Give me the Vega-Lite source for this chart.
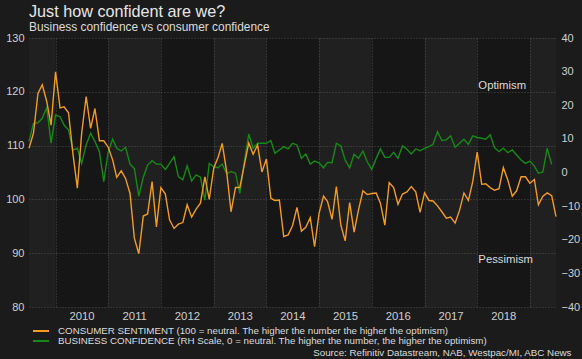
{
  "$schema": "https://vega.github.io/schema/vega-lite/v6.json",
  "width": 527,
  "height": 269,
  "autosize": {"type": "none"},
  "padding": {"left": 29, "top": 38, "right": 26, "bottom": 52},
  "config": {
    "background": "#1b1b1b",
    "view": {"fill": "#161616", "stroke": null},
    "font": "Liberation Sans"
  },
  "title": {
    "text": "Just how confident are we?",
    "subtitle": "Business confidence vs consumer confidence",
    "anchor": "start",
    "frame": "group",
    "fontSize": 16.2,
    "fontWeight": "normal",
    "color": "#e6e6e6",
    "subtitleFontSize": 11.9,
    "subtitleColor": "#dcdcdc",
    "offset": -1,
    "subtitlePadding": 2
  },
  "datasets": {
    "bands": [
      {"s": "2009/07/01", "e": "2010/01/01"},
      {"s": "2011/01/01", "e": "2012/01/01"},
      {"s": "2013/01/01", "e": "2014/01/01"},
      {"s": "2015/01/01", "e": "2016/01/01"},
      {"s": "2017/01/01", "e": "2018/01/01"},
      {"s": "2019/01/01", "e": "2019/07/01"}
    ],
    "notes": [
      {"d": "2018/01/09", "v": 121.1, "t": "Optimism"},
      {"d": "2018/01/09", "v": 88.7, "t": "Pessimism"}
    ],
    "conf": [
      {"d": "2009/07/01", "c": 109.5, "b": 9.2},
      {"d": "2009/08/01", "c": 112.3, "b": 14.6},
      {"d": "2009/09/01", "c": 119.7, "b": 14.8},
      {"d": "2009/10/01", "c": 121.3, "b": 16.1},
      {"d": "2009/11/01", "c": 118.2, "b": 19.3},
      {"d": "2009/12/01", "c": 113.8, "b": 8.7},
      {"d": "2010/01/01", "c": 123.7, "b": 17.1},
      {"d": "2010/02/01", "c": 117.0, "b": 16.6},
      {"d": "2010/03/01", "c": 117.2, "b": 14.1},
      {"d": "2010/04/01", "c": 116.1, "b": 12.6},
      {"d": "2010/05/01", "c": 108.6, "b": 6.7},
      {"d": "2010/06/01", "c": 102.1, "b": 7.2},
      {"d": "2010/07/01", "c": 112.3, "b": 2.7},
      {"d": "2010/08/01", "c": 119.1, "b": 8.2},
      {"d": "2010/09/01", "c": 113.2, "b": 11.7},
      {"d": "2010/10/01", "c": 116.9, "b": 9.2},
      {"d": "2010/11/01", "c": 110.9, "b": 6.2},
      {"d": "2010/12/01", "c": 110.9, "b": -2.7},
      {"d": "2011/01/01", "c": 109.7, "b": 6.2},
      {"d": "2011/02/01", "c": 107.3, "b": 9.9},
      {"d": "2011/03/01", "c": 104.1, "b": 7.2},
      {"d": "2011/04/01", "c": 105.3, "b": 6.4},
      {"d": "2011/05/01", "c": 103.9, "b": 7.5},
      {"d": "2011/06/01", "c": 101.1, "b": 2.5},
      {"d": "2011/07/01", "c": 92.8, "b": 1.2},
      {"d": "2011/08/01", "c": 89.9, "b": -7.0},
      {"d": "2011/09/01", "c": 96.9, "b": -1.4},
      {"d": "2011/10/01", "c": 97.3, "b": 2.2},
      {"d": "2011/11/01", "c": 103.3, "b": 3.5},
      {"d": "2011/12/01", "c": 94.9, "b": 2.5},
      {"d": "2012/01/01", "c": 102.2, "b": 2.5},
      {"d": "2012/02/01", "c": 101.0, "b": 0.9},
      {"d": "2012/03/01", "c": 96.2, "b": 2.7},
      {"d": "2012/04/01", "c": 94.6, "b": 4.7},
      {"d": "2012/05/01", "c": 95.4, "b": -1.2},
      {"d": "2012/06/01", "c": 95.7, "b": -2.2},
      {"d": "2012/07/01", "c": 99.0, "b": 2.0},
      {"d": "2012/08/01", "c": 96.7, "b": -2.5},
      {"d": "2012/09/01", "c": 98.2, "b": -0.7},
      {"d": "2012/10/01", "c": 99.3, "b": -1.4},
      {"d": "2012/11/01", "c": 104.2, "b": -8.2},
      {"d": "2012/12/01", "c": 100.0, "b": 2.7},
      {"d": "2013/01/01", "c": 105.8, "b": 1.7},
      {"d": "2013/02/01", "c": 107.9, "b": 1.4},
      {"d": "2013/03/01", "c": 110.4, "b": 2.5},
      {"d": "2013/04/01", "c": 105.1, "b": -0.4},
      {"d": "2013/05/01", "c": 97.7, "b": 0.3},
      {"d": "2013/06/01", "c": 102.2, "b": -0.2},
      {"d": "2013/07/01", "c": 102.2, "b": -6.2},
      {"d": "2013/08/01", "c": 106.4, "b": 3.2},
      {"d": "2013/09/01", "c": 110.5, "b": 11.4},
      {"d": "2013/10/01", "c": 108.4, "b": 7.2},
      {"d": "2013/11/01", "c": 110.1, "b": 8.7},
      {"d": "2013/12/01", "c": 105.1, "b": 8.7},
      {"d": "2014/01/01", "c": 107.5, "b": 8.7},
      {"d": "2014/02/01", "c": 100.2, "b": 9.5},
      {"d": "2014/03/01", "c": 99.8, "b": 5.7},
      {"d": "2014/04/01", "c": 99.9, "b": 6.7},
      {"d": "2014/05/01", "c": 93.1, "b": 7.7},
      {"d": "2014/06/01", "c": 93.4, "b": 7.0},
      {"d": "2014/07/01", "c": 95.1, "b": 8.7},
      {"d": "2014/08/01", "c": 98.5, "b": 8.2},
      {"d": "2014/09/01", "c": 94.1, "b": 4.2},
      {"d": "2014/10/01", "c": 94.8, "b": 5.5},
      {"d": "2014/11/01", "c": 96.6, "b": 2.5},
      {"d": "2014/12/01", "c": 91.2, "b": 3.4},
      {"d": "2015/01/01", "c": 97.4, "b": 2.9},
      {"d": "2015/02/01", "c": 100.6, "b": 1.4},
      {"d": "2015/03/01", "c": 99.6, "b": 3.0},
      {"d": "2015/04/01", "c": 96.3, "b": 2.9},
      {"d": "2015/05/01", "c": 102.4, "b": 8.7},
      {"d": "2015/06/01", "c": 95.2, "b": 7.9},
      {"d": "2015/07/01", "c": 92.3, "b": 3.7},
      {"d": "2015/08/01", "c": 99.4, "b": 1.4},
      {"d": "2015/09/01", "c": 93.9, "b": 5.4},
      {"d": "2015/10/01", "c": 98.0, "b": 4.2},
      {"d": "2015/11/01", "c": 101.6, "b": 6.4},
      {"d": "2015/12/01", "c": 100.9, "b": 3.2},
      {"d": "2016/01/01", "c": 101.1, "b": 0.9},
      {"d": "2016/02/01", "c": 101.2, "b": 4.2},
      {"d": "2016/03/01", "c": 99.3, "b": 7.0},
      {"d": "2016/04/01", "c": 95.2, "b": 4.5},
      {"d": "2016/05/01", "c": 103.1, "b": 4.5},
      {"d": "2016/06/01", "c": 102.2, "b": 6.0},
      {"d": "2016/07/01", "c": 99.1, "b": 4.2},
      {"d": "2016/08/01", "c": 101.0, "b": 7.9},
      {"d": "2016/09/01", "c": 101.4, "b": 6.9},
      {"d": "2016/10/01", "c": 102.4, "b": 5.5},
      {"d": "2016/11/01", "c": 101.4, "b": 7.0},
      {"d": "2016/12/01", "c": 97.6, "b": 6.5},
      {"d": "2017/01/01", "c": 101.2, "b": 7.2},
      {"d": "2017/02/01", "c": 99.8, "b": 7.7},
      {"d": "2017/03/01", "c": 99.7, "b": 8.4},
      {"d": "2017/04/01", "c": 98.8, "b": 12.1},
      {"d": "2017/05/01", "c": 97.7, "b": 9.5},
      {"d": "2017/06/01", "c": 96.5, "b": 9.7},
      {"d": "2017/07/01", "c": 96.7, "b": 10.9},
      {"d": "2017/08/01", "c": 95.6, "b": 7.5},
      {"d": "2017/09/01", "c": 98.0, "b": 8.7},
      {"d": "2017/10/01", "c": 101.2, "b": 9.9},
      {"d": "2017/11/01", "c": 99.8, "b": 8.4},
      {"d": "2017/12/01", "c": 103.3, "b": 10.9},
      {"d": "2018/01/01", "c": 108.8, "b": 10.4},
      {"d": "2018/02/01", "c": 102.8, "b": 10.2},
      {"d": "2018/03/01", "c": 102.9, "b": 9.9},
      {"d": "2018/04/01", "c": 102.2, "b": 11.2},
      {"d": "2018/05/01", "c": 101.7, "b": 7.4},
      {"d": "2018/06/01", "c": 102.0, "b": 6.2},
      {"d": "2018/07/01", "c": 105.9, "b": 7.2},
      {"d": "2018/08/01", "c": 103.6, "b": 5.9},
      {"d": "2018/09/01", "c": 100.6, "b": 6.7},
      {"d": "2018/10/01", "c": 101.6, "b": 5.2},
      {"d": "2018/11/01", "c": 104.2, "b": 3.7},
      {"d": "2018/12/01", "c": 104.2, "b": 2.7},
      {"d": "2019/01/01", "c": 103.0, "b": 3.4},
      {"d": "2019/02/01", "c": 103.7, "b": 1.9},
      {"d": "2019/03/01", "c": 99.0, "b": -0.2},
      {"d": "2019/04/01", "c": 100.6, "b": 0.2},
      {"d": "2019/05/01", "c": 101.2, "b": 7.2},
      {"d": "2019/06/01", "c": 100.7, "b": 2.4},
      {"d": "2019/07/01", "c": 96.8, "b": null}
    ]
  },
  "resolve": {"scale": {"y": "independent"}},
  "layer": [
    {
      "data": {"name": "bands"},
      "mark": {"type": "rect", "fill": "#ffffff", "opacity": 0.045},
      "encoding": {
        "x": {"field": "s", "type": "temporal"},
        "x2": {"field": "e"}
      }
    },
    {
      "data": {"name": "conf"},
      "mark": {"type": "line", "strokeWidth": 1.4},
      "encoding": {
        "x": {
          "field": "d",
          "type": "temporal",
          "scale": {"domain": [{"year": 2009, "month": 7, "date": 1}, {"year": 2019, "month": 7, "date": 1}], "nice": false},
          "axis": {
            "values": [
              {"year": 2010, "month": 1, "date": 1},
              {"year": 2011, "month": 1, "date": 1},
              {"year": 2012, "month": 1, "date": 1},
              {"year": 2013, "month": 1, "date": 1},
              {"year": 2014, "month": 1, "date": 1},
              {"year": 2015, "month": 1, "date": 1},
              {"year": 2016, "month": 1, "date": 1},
              {"year": 2017, "month": 1, "date": 1},
              {"year": 2018, "month": 1, "date": 1},
              {"year": 2019, "month": 1, "date": 1}
            ],
            "format": "%Y",
            "labelExpr": "year(datum.value) == 2019 ? '' : datum.label",
            "labelOffset": 26,
            "labelPadding": 3,
            "labelFontSize": 11.3,
            "labelColor": "#cfcfcf",
            "labelOverlap": false,
            "labelFlush": false,
            "grid": true,
            "gridColor": "#4a4a4a",
            "gridDash": [1, 2],
            "gridWidth": 1,
            "domain": false,
            "ticks": false,
            "title": "Source: Refinitiv Datastream, NAB, Westpac/MI, ABC News",
            "titleX": 542,
            "titleY": 48.5,
            "titleAlign": "right",
            "titleAnchor": null,
            "titleBaseline": "alphabetic",
            "titleFontSize": 9.75,
            "titleFontWeight": "normal",
            "titleColor": "#dcdcdc"
          }
        },
        "y": {
          "field": "b",
          "type": "quantitative",
          "scale": {"domain": [-40, 40], "nice": false},
          "axis": {
            "orient": "right",
            "values": [-40, -30, -20, -10, 0, 10, 20, 30, 40],
            "grid": false,
            "domain": false,
            "ticks": false,
            "labelPadding": 5,
            "labelFontSize": 11,
            "labelColor": "#cfcfcf",
            "title": null
          }
        },
        "color": {"datum": "BUSINESS CONFIDENCE (RH Scale, 0 = neutral. The higher the number, the higher the optimism)"}
      }
    },
    {
      "data": {"name": "conf"},
      "mark": {"type": "line", "strokeWidth": 1.4},
      "encoding": {
        "x": {"field": "d", "type": "temporal"},
        "y": {
          "field": "c",
          "type": "quantitative",
          "scale": {"domain": [80, 130], "nice": false},
          "axis": {
            "orient": "left",
            "values": [80, 90, 100, 110, 120, 130],
            "grid": true,
            "gridColor": "#4a4a4a",
            "gridDash": [1, 2],
            "domain": false,
            "ticks": false,
            "labelPadding": 5,
            "labelFontSize": 11,
            "labelColor": "#cfcfcf",
            "title": null
          }
        },
        "color": {
          "datum": "CONSUMER SENTIMENT (100 = neutral. The higher the number the higher the optimism)",
          "scale": {
            "domain": [
              "CONSUMER SENTIMENT (100 = neutral. The higher the number the higher the optimism)",
              "BUSINESS CONFIDENCE (RH Scale, 0 = neutral. The higher the number, the higher the optimism)"
            ],
            "range": ["#f39c1f", "#168a16"]
          },
          "legend": {
            "orient": "none",
            "legendX": 7,
            "legendY": 288,
            "direction": "vertical",
            "title": null,
            "padding": 0,
            "symbolType": "M-2,0H2",
            "symbolSize": 64,
            "symbolStrokeWidth": 2,
            "labelOffset": 12,
            "labelFontSize": 9.75,
            "labelColor": "#dcdcdc",
            "labelLimit": 0,
            "rowPadding": -8
          }
        }
      }
    },
    {
      "data": {"name": "notes"},
      "mark": {"type": "text", "align": "left", "baseline": "middle", "fontSize": 11.3, "color": "#dcdcdc"},
      "encoding": {
        "x": {"field": "d", "type": "temporal"},
        "y": {"field": "v", "type": "quantitative", "scale": {"domain": [80, 130], "nice": false}, "axis": null},
        "text": {"field": "t"}
      }
    }
  ]
}
